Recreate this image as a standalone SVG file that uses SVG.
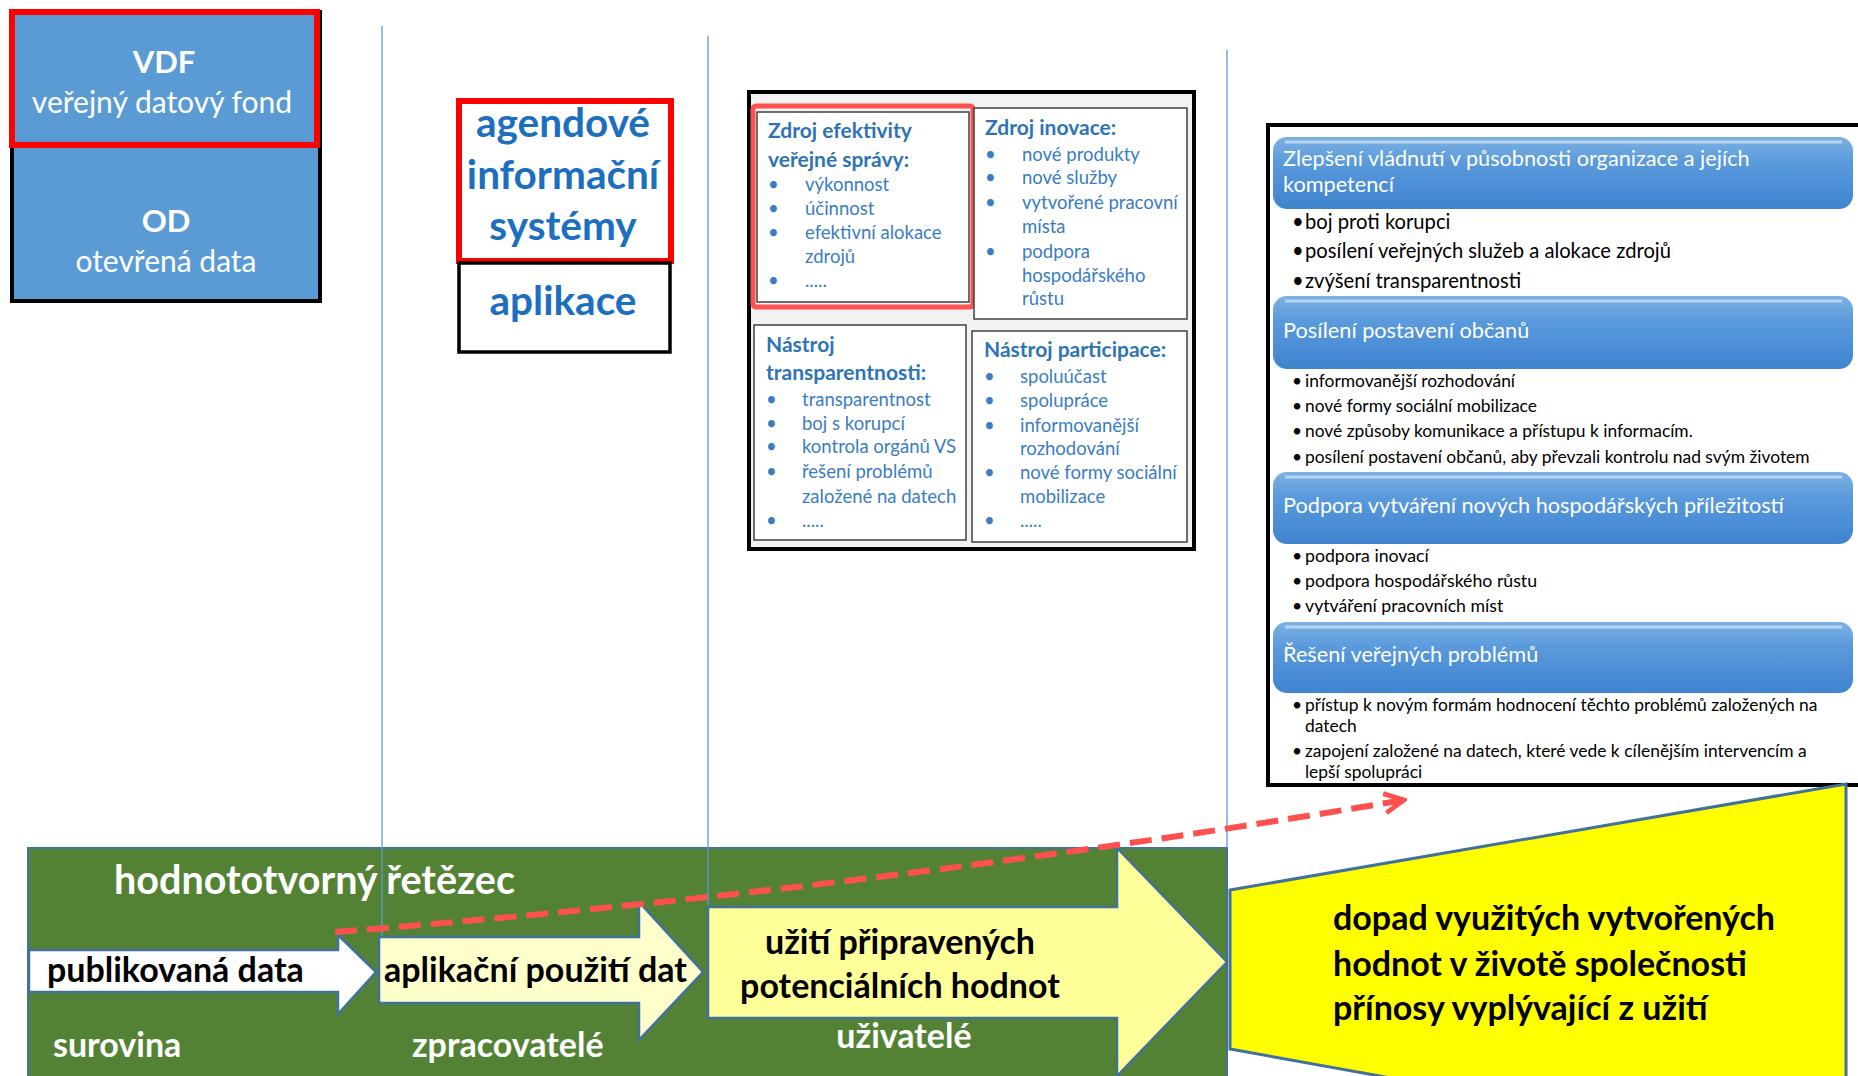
<svg xmlns="http://www.w3.org/2000/svg" width="1858" height="1076" viewBox="0 0 1858 1076">
<style>
text{font-family:Lato,"Liberation Sans","Noto Sans",sans-serif}
.w{fill:#fff}
.b{font-weight:bold}
.blue{fill:#1C6FBF}
.vl{stroke:#5B9BD5;stroke-width:1.3}
.hd{fill:#2E74B5;font-weight:bold;font-size:21px}
.it{fill:#3A7DC2;font-size:18.5px}
.sub{fill:#fff;stroke:#404040;stroke-width:1.5}
.bt{fill:#fff;font-size:21.7px}
.k{fill:#000}
.ar{stroke:#41719C;stroke-width:2.5}
.big{font-weight:bold;font-size:34px}
</style>
<defs>
<linearGradient id="bar" x1="0" y1="0" x2="0" y2="1">
<stop offset="0" stop-color="#7DB1E3"/>
<stop offset="0.35" stop-color="#5A9ADC"/>
<stop offset="1" stop-color="#3F84D0"/>
</linearGradient>
<marker id="chev" viewBox="0 0 24 24" refX="21" refY="12" markerWidth="26" markerHeight="26" markerUnits="userSpaceOnUse" orient="auto">
<path d="M3,3 L21,12 L3,21" fill="none" stroke="#FF5050" stroke-width="4.5"/>
</marker>
</defs>
<rect width="1858" height="1076" fill="#fff"/>

<g id="vdf">
<rect x="12" y="12" width="308" height="289" fill="#5B9BD5" stroke="#000" stroke-width="4"/>
<rect x="12" y="12" width="305" height="133" fill="none" stroke="#FF0000" stroke-width="6"/>
<text x="164" y="73" text-anchor="middle" class="w b" font-size="31">VDF</text>
<text x="162" y="113" text-anchor="middle" class="w" font-size="30">veřejný datový fond</text>
<text x="166" y="232" text-anchor="middle" class="w b" font-size="31">OD</text>
<text x="166" y="272" text-anchor="middle" class="w" font-size="30">otevřená data</text>
</g>

<g id="ais">
<rect x="459" y="101" width="212" height="160" fill="#fff" stroke="#FF0000" stroke-width="6"/>
<text x="563" y="137" text-anchor="middle" class="blue b" font-size="40.5">agendové</text>
<text x="563" y="189" text-anchor="middle" class="blue b" font-size="40.5">informační</text>
<text x="563" y="240" text-anchor="middle" class="blue b" font-size="40.5">systémy</text>
</g>
<g id="aplikace">
<rect x="459" y="263" width="211" height="89" fill="#fff" stroke="#000" stroke-width="3.5"/>
<text x="563" y="315" text-anchor="middle" class="blue b" font-size="40.5">aplikace</text>
</g>

<g id="center-panel">
<rect x="749" y="92" width="445" height="457" fill="#F2F2F2" stroke="#000" stroke-width="4"/>
<rect x="757" y="112" width="212" height="190" class="sub"/>
<rect x="753" y="106" width="220" height="201" rx="3" fill="none" stroke="#FF5050" stroke-width="5"/>
<rect x="974" y="108" width="213" height="211" class="sub"/>
<rect x="754" y="325" width="212" height="215" class="sub"/>
<rect x="972" y="331" width="215" height="211" class="sub"/>

<text x="768" y="138" class="hd">Zdroj efektivity</text>
<text x="768" y="167" class="hd">veřejné správy:</text>
<text x="768" y="191" class="it">•</text><text x="805" y="191" class="it">výkonnost</text>
<text x="768" y="215" class="it">•</text><text x="805" y="215" class="it">účinnost</text>
<text x="768" y="239" class="it">•</text><text x="805" y="239" class="it">efektivní alokace</text>
<text x="805" y="263" class="it">zdrojů</text>
<text x="768" y="287" class="it">•</text><text x="805" y="287" class="it">.....</text>

<text x="985" y="135" class="hd">Zdroj inovace:</text>
<text x="985" y="161" class="it">•</text><text x="1022" y="161" class="it">nové produkty</text>
<text x="985" y="184" class="it">•</text><text x="1022" y="184" class="it">nové služby</text>
<text x="985" y="209" class="it">•</text><text x="1022" y="209" class="it">vytvořené pracovní</text>
<text x="1022" y="233" class="it">místa</text>
<text x="985" y="258" class="it">•</text><text x="1022" y="258" class="it">podpora</text>
<text x="1022" y="282" class="it">hospodářského</text>
<text x="1022" y="305" class="it">růstu</text>

<text x="766" y="352" class="hd">Nástroj</text>
<text x="766" y="380" class="hd">transparentnosti:</text>
<text x="766" y="406" class="it">•</text><text x="802" y="406" class="it">transparentnost</text>
<text x="766" y="430" class="it">•</text><text x="802" y="430" class="it">boj s korupcí</text>
<text x="766" y="453" class="it">•</text><text x="802" y="453" class="it">kontrola orgánů VS</text>
<text x="766" y="478" class="it">•</text><text x="802" y="478" class="it">řešení problémů</text>
<text x="802" y="503" class="it">založené na datech</text>
<text x="766" y="527" class="it">•</text><text x="802" y="527" class="it">.....</text>

<text x="984" y="357" class="hd">Nástroj participace:</text>
<text x="984" y="383" class="it">•</text><text x="1020" y="383" class="it">spoluúčast</text>
<text x="984" y="407" class="it">•</text><text x="1020" y="407" class="it">spolupráce</text>
<text x="984" y="432" class="it">•</text><text x="1020" y="432" class="it">informovanější</text>
<text x="1020" y="455" class="it">rozhodování</text>
<text x="984" y="479" class="it">•</text><text x="1020" y="479" class="it">nové formy sociální</text>
<text x="1020" y="503" class="it">mobilizace</text>
<text x="984" y="527" class="it">•</text><text x="1020" y="527" class="it">.....</text>
</g>

<g id="right-panel">
<rect x="1268" y="125" width="620" height="660" fill="#fff" stroke="#000" stroke-width="4"/>
<rect x="1273" y="137" width="580" height="72" rx="14" fill="url(#bar)"/>
<line x1="1285" y1="142" x2="1842" y2="142" stroke="#B5D5F3" stroke-width="3"/>
<text x="1283" y="166" class="bt">Zlepšení vládnutí v působnosti organizace a jejích</text>
<text x="1283" y="192" class="bt">kompetencí</text>
<text x="1292" y="229" class="k" font-size="20.2">•</text><text x="1305" y="229" class="k" font-size="20.2">boj proti korupci</text>
<text x="1292" y="258" class="k" font-size="20.2">•</text><text x="1305" y="258" class="k" font-size="20.2">posílení veřejných služeb a alokace zdrojů</text>
<text x="1292" y="288" class="k" font-size="20.2">•</text><text x="1305" y="288" class="k" font-size="20.2">zvýšení transparentnosti</text>

<rect x="1273" y="296" width="580" height="73" rx="14" fill="url(#bar)"/>
<line x1="1285" y1="301" x2="1842" y2="301" stroke="#B5D5F3" stroke-width="3"/>
<text x="1283" y="338" class="bt">Posílení postavení občanů</text>
<text x="1292" y="387" class="k" font-size="17.4">•</text><text x="1305" y="387" class="k" font-size="17.4">informovanější rozhodování</text>
<text x="1292" y="412" class="k" font-size="17.4">•</text><text x="1305" y="412" class="k" font-size="17.4">nové formy sociální mobilizace</text>
<text x="1292" y="437" class="k" font-size="17.4">•</text><text x="1305" y="437" class="k" font-size="17.4">nové způsoby komunikace a přístupu k informacím.</text>
<text x="1292" y="463" class="k" font-size="17.4">•</text><text x="1305" y="463" class="k" font-size="17.4">posílení postavení občanů, aby převzali kontrolu nad svým životem</text>

<rect x="1273" y="472" width="580" height="72" rx="14" fill="url(#bar)"/>
<line x1="1285" y1="477" x2="1842" y2="477" stroke="#B5D5F3" stroke-width="3"/>
<text x="1283" y="513" class="bt">Podpora vytváření nových hospodářských příležitostí</text>
<text x="1292" y="562" class="k" font-size="17.7">•</text><text x="1305" y="562" class="k" font-size="17.7">podpora inovací</text>
<text x="1292" y="587" class="k" font-size="17.7">•</text><text x="1305" y="587" class="k" font-size="17.7">podpora hospodářského růstu</text>
<text x="1292" y="612" class="k" font-size="17.7">•</text><text x="1305" y="612" class="k" font-size="17.7">vytváření pracovních míst</text>

<rect x="1273" y="622" width="580" height="71" rx="14" fill="url(#bar)"/>
<line x1="1285" y1="627" x2="1842" y2="627" stroke="#B5D5F3" stroke-width="3"/>
<text x="1283" y="662" class="bt">Řešení veřejných problémů</text>
<text x="1292" y="711" class="k" font-size="17.4">•</text><text x="1305" y="711" class="k" font-size="17.4">přístup k novým formám hodnocení těchto problémů založených na</text>
<text x="1305" y="732" class="k" font-size="17.4">datech</text>
<text x="1292" y="757" class="k" font-size="17.4">•</text><text x="1305" y="757" class="k" font-size="17.4">zapojení založené na datech, které vede k cílenějším intervencím a</text>
<text x="1305" y="778" class="k" font-size="17.4">lepší spolupráci</text>
</g>

<g id="chain">
<rect x="28" y="848" width="1199" height="240" fill="#548235" stroke="#41719C" stroke-width="2"/>
<text x="114" y="894" class="w b" font-size="39.5">hodnototvorný řetězec</text>
<text x="53" y="1057" class="w big" font-size="35">surovina</text>
<text x="412" y="1057" class="w big" font-size="34.5">zpracovatelé</text>
<text x="904" y="1048" text-anchor="middle" class="w big">uživatelé</text>
</g>

<g id="dividers">
<line x1="382" y1="26" x2="382" y2="938" class="vl"/>
<line x1="708" y1="36" x2="708" y2="908" class="vl"/>
<line x1="1227" y1="50" x2="1227" y2="848" class="vl"/>
</g>

<g id="impact">
<polygon points="1230,890 1846,784 1846,1160 1230,1049" fill="#FFFF00" stroke="#41719C" stroke-width="3"/>
<text x="1333" y="930" class="k big" font-size="35.8">dopad využitých vytvořených</text>
<text x="1333" y="976" class="k big" font-size="35.8">hodnot v životě společnosti</text>
<text x="1333" y="1020" class="k big" font-size="35.8">přínosy vyplývající z užití</text>
</g>

<g id="arrow-publikovana">
<polygon points="29,950 338,950 338,935 376,972 338,1014 338,992 29,992" fill="#fff" class="ar"/>
<text x="47" y="982" class="k big" font-size="34.4">publikovaná data</text>
</g>
<g id="arrow-aplikacni">
<polygon points="379,937 639,937 639,902 703,972 639,1040 639,1003 379,1003" fill="#FFFFCC" class="ar"/>
<text x="384" y="982" class="k big" font-size="33.9">aplikační použití dat</text>
</g>
<g id="arrow-uziti">
<polygon points="708,907 1117,907 1117,848 1227,962 1117,1076 1117,1018 708,1018" fill="#FFFF99" class="ar"/>
<text x="900" y="954" text-anchor="middle" class="k big" font-size="34.5">užití připravených</text>
<text x="900" y="998" text-anchor="middle" class="k big" font-size="35">potenciálních hodnot</text>
</g>

<g id="connectors">
<path d="M335,932 Q871,890 1404,800" fill="none" stroke="#FF5050" stroke-width="6" stroke-dasharray="22 10" marker-end="url(#chev)"/>
</g>
</svg>
